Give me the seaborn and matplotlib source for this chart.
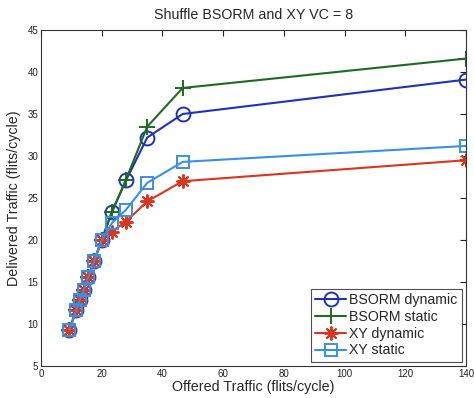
import matplotlib
matplotlib.use("Agg")
import matplotlib.pyplot as plt
import seaborn as sns
import pandas as pd

offered = [9.33, 11.67, 12.73, 14.0, 15.56, 17.5, 20.0, 23.33, 28.0, 35.0, 46.67, 140.0]
bsorm_dynamic = [9.33, 11.67, 12.8, 14.0, 15.56, 17.5, 20.0, 23.3, 27.1, 32.2, 35.0, 39.1]
bsorm_static = [9.33, 11.67, 12.8, 14.0, 15.56, 17.5, 20.0, 23.3, 27.2, 33.5, 38.1, 41.6]
xy_dynamic = [9.33, 11.67, 12.8, 14.0, 15.56, 17.5, 20.0, 21.0, 22.2, 24.6, 27.0, 29.5]
xy_static = [9.33, 11.67, 12.8, 14.0, 15.56, 17.5, 20.0, 22.0, 23.6, 26.8, 29.3, 31.2]

series_names = ["BSORM dynamic", "BSORM static", "XY dynamic", "XY static"]
series_values = [bsorm_dynamic, bsorm_static, xy_dynamic, xy_static]
x_ticks = [0, 20, 40, 60, 80, 100, 120, 140]
y_ticks = [5, 10, 15, 20, 25, 30, 35, 40, 45]

colors = ["#1f32b5", "#1f6a22", "#d8361f", "#3b8fe3"]
markers = ["o", "+", (8, 2, 0), "s"]
msizes = [10, 12, 10, 8]

sns.set_style("white")
plt.rcParams["font.family"] = ["Liberation Sans", "DejaVu Sans"]

fig = plt.figure(figsize=(4.74, 3.98), dpi=100)
ax = fig.add_axes([41/474, 1-366/398, (466-41)/474, (366-30)/398])

for name, vals, c, m, ms in zip(series_names, series_values, colors, markers, msizes):
    df = pd.DataFrame({"x": offered, "y": vals})
    sns.lineplot(data=df, x="x", y="y", ax=ax, color=c, marker=m, markersize=ms,
                 markerfacecolor="none", markeredgecolor=c, markeredgewidth=1.4,
                 linewidth=1.5, label=name, sort=False, estimator=None)

ax.set_xlim(0, 140)
ax.set_ylim(5, 45)
ax.set_xticks(x_ticks)
ax.set_yticks(y_ticks)
ax.tick_params(direction="in", top=True, right=True, length=4, width=0.8,
               labelsize=7, colors="#222222", pad=2)
for s in ax.spines.values():
    s.set_visible(True)
    s.set_color("#333333")
    s.set_linewidth(0.8)
ax.set_xlabel("Offered Traffic (flits/cycle)", fontsize=10.3, labelpad=1)
ax.set_ylabel("Delivered Traffic (flits/cycle)", fontsize=10.3, labelpad=5)
ax.set_title("Shuffle BSORM and XY VC = 8", fontsize=10.3, pad=8)

leg = ax.legend(loc="lower right", fontsize=10.2, frameon=True, fancybox=False,
                edgecolor="#222222", borderpad=0.3, labelspacing=0.2,
                handlelength=2.2, handletextpad=0.2, borderaxespad=0.3)
leg.get_frame().set_linewidth(0.8)

fig.savefig("out.png", dpi=100)
